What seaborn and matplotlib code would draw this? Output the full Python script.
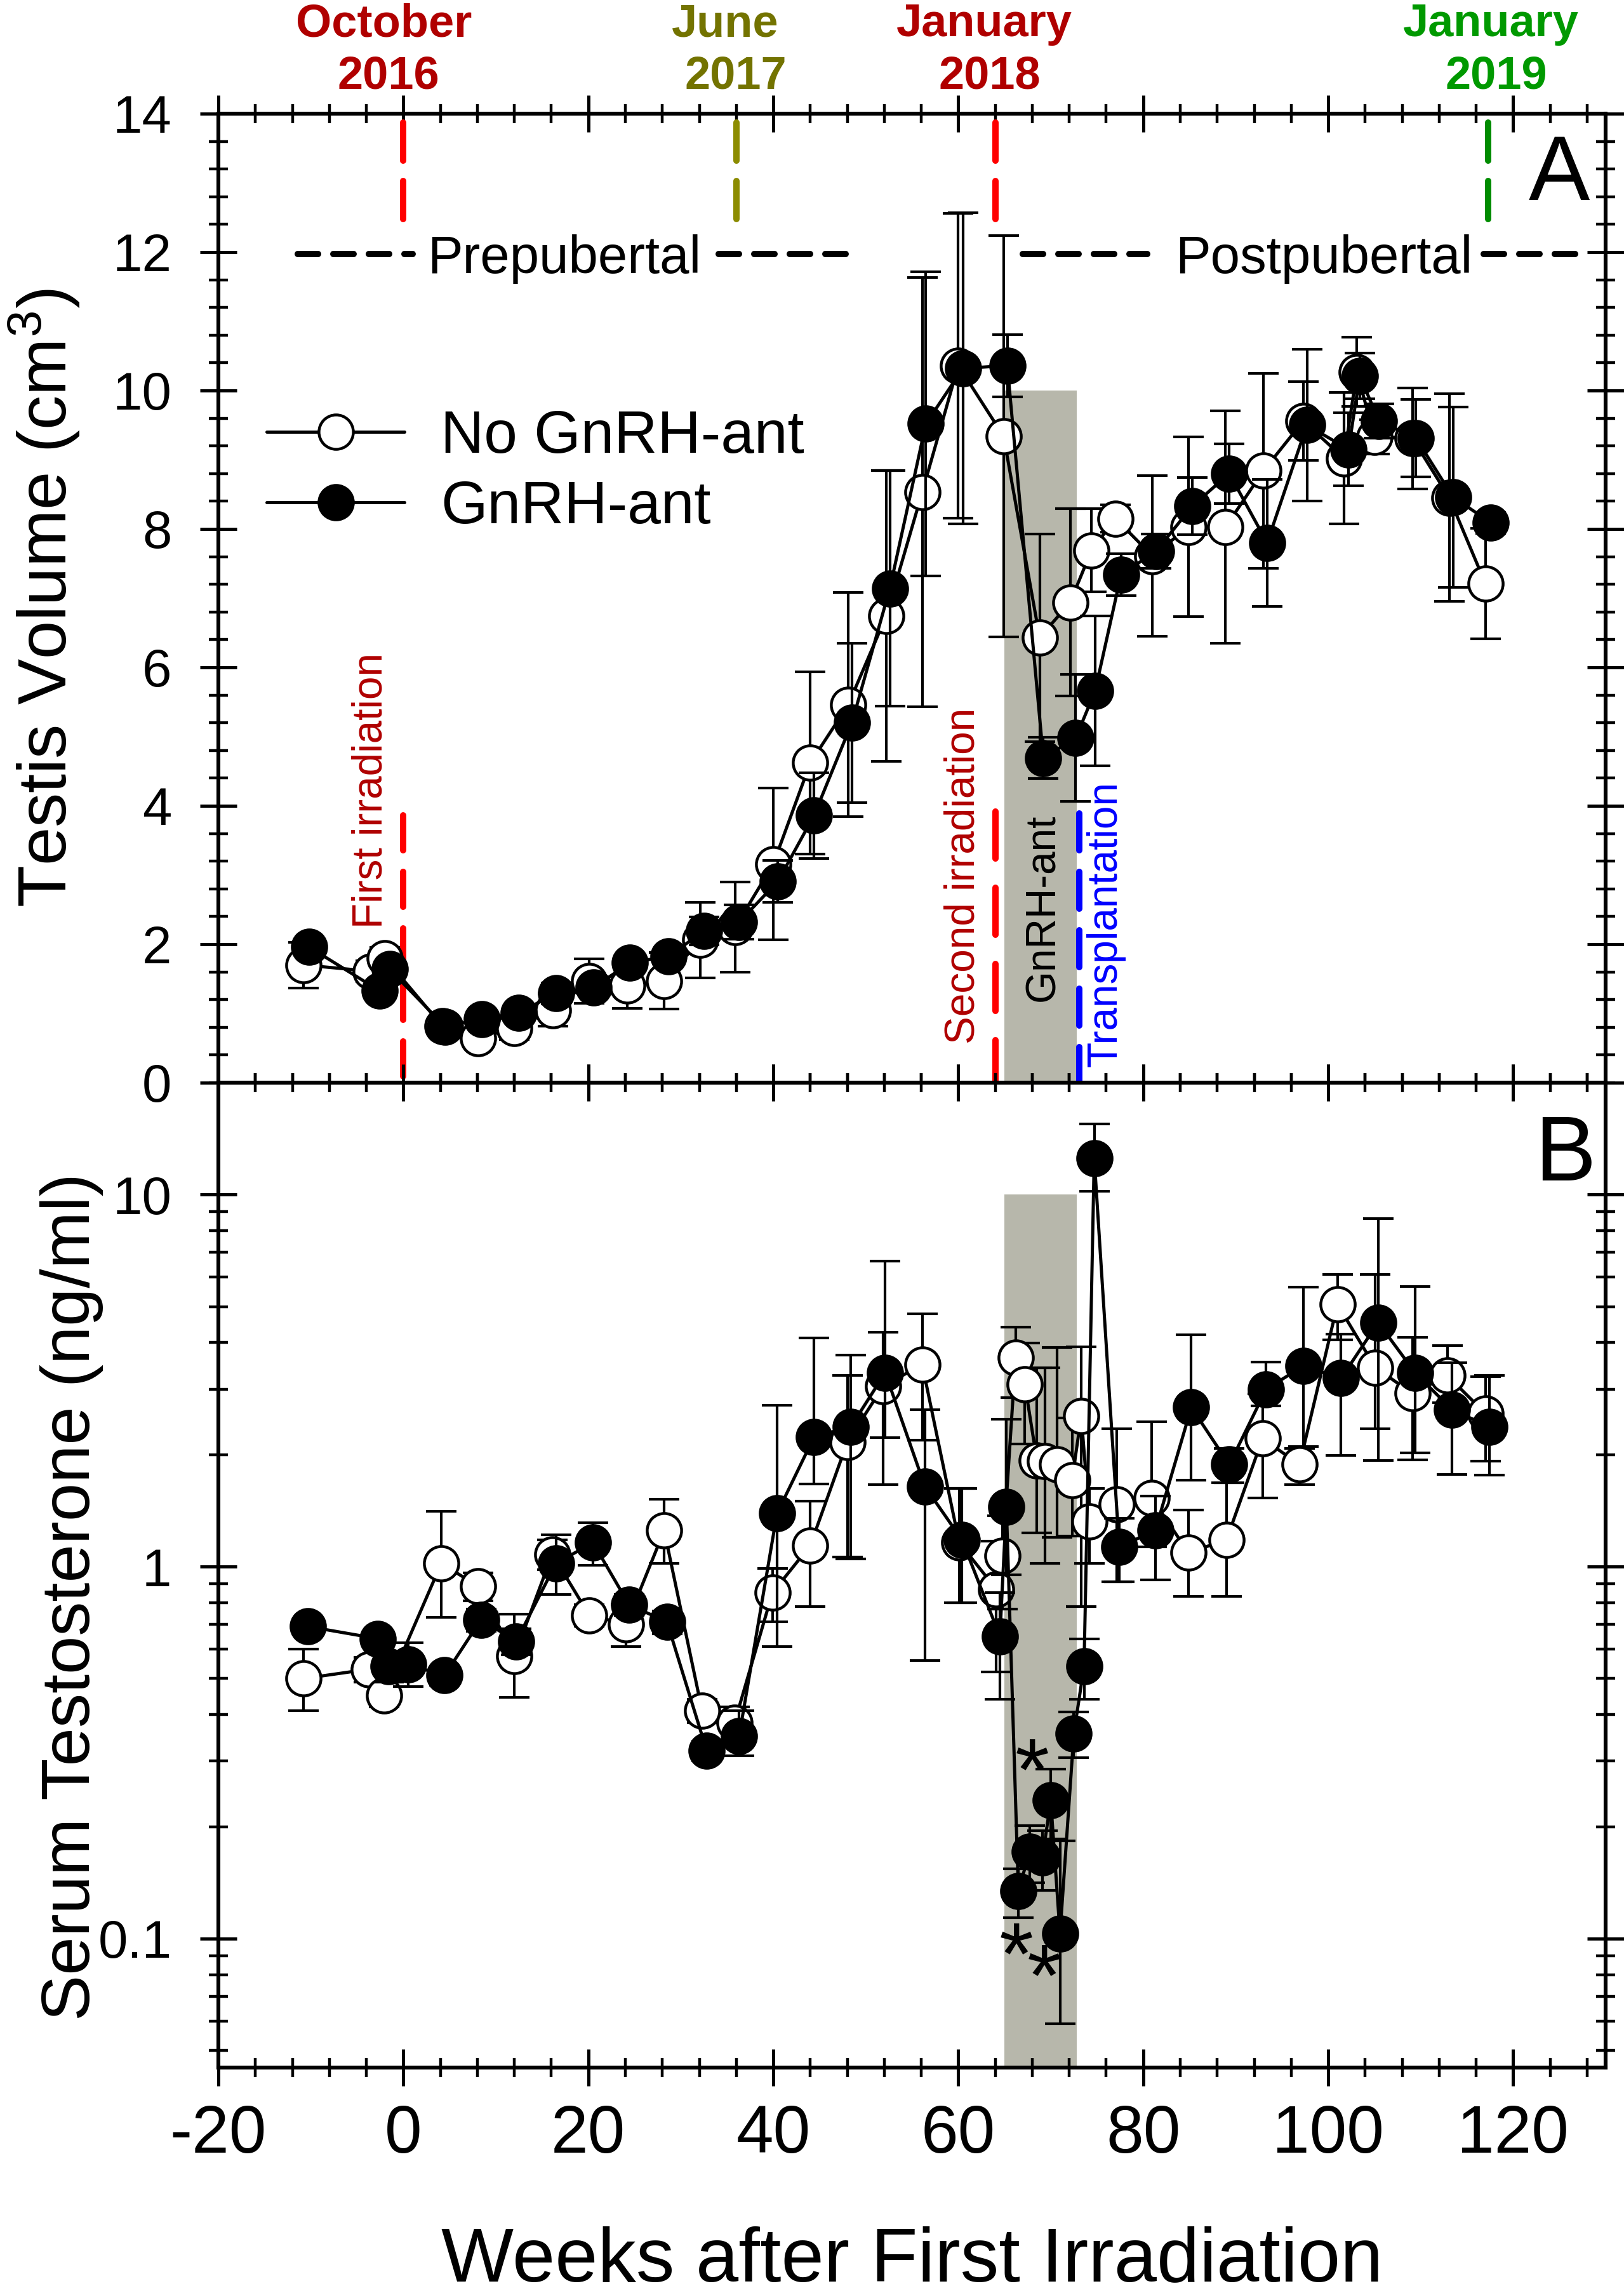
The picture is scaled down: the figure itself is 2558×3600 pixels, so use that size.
import matplotlib
matplotlib.use("Agg")
from matplotlib import pyplot as plt
from matplotlib import ticker
import seaborn as sns
import numpy as np

# ---- Panel A: testis volume (cm3), mean and SEM ----
weeks_vol_no = [-10.8, -3.5, -2.0, 4.2, 8.1, 12.0, 16.2, 20.1, 24.2, 28.2, 32.1, 35.9,
                40.0, 44.0, 48.1, 52.2, 56.1, 60.0, 64.9, 68.8, 72.1, 74.4, 77.0, 81.0,
                84.9, 88.9, 93.0, 97.3, 101.7, 103.1, 105.0, 109.1, 113.1, 117.0]
vol_no = [1.70, 1.61, 1.80, 0.82, 0.64, 0.79, 1.05, 1.47, 1.40, 1.47, 2.06, 2.25,
          3.16, 4.62, 5.46, 6.74, 8.53, 10.36, 9.34, 6.43, 6.94, 7.69, 8.15, 7.61,
          8.03, 8.03, 8.84, 9.56, 9.02, 10.27, 9.33, 9.31, 8.45, 7.21]
vol_no_sem = [0.33, 0.15, 0.15, 0.08, 0.10, 0.17, 0.23, 0.32, 0.33, 0.41, 0.55, 0.65,
              1.10, 1.32, 1.62, 2.10, 3.10, 2.20, 2.90, 1.50, 1.35, 0.60, 0.20, 1.16,
              1.30, 1.68, 1.41, 0.57, 0.95, 0.50, 0.25, 0.73, 1.50, 0.80]

weeks_vol_ant = [-10.2, -2.6, -1.5, 4.5, 8.5, 12.5, 16.5, 20.6, 24.5, 28.7, 32.5, 36.3,
                 40.5, 44.4, 48.5, 52.6, 56.5, 60.5, 65.3, 69.2, 72.7, 74.8, 77.6, 81.4,
                 85.3, 89.3, 93.4, 97.7, 102.2, 103.4, 105.5, 109.5, 113.5, 117.6]
vol_ant = [1.96, 1.33, 1.64, 0.81, 0.92, 1.01, 1.29, 1.38, 1.73, 1.83, 2.19, 2.32,
           2.91, 3.86, 5.20, 7.14, 9.52, 10.32, 10.36, 4.69, 4.98, 5.66, 7.34, 7.68,
           8.33, 8.80, 7.80, 9.50, 9.15, 10.21, 9.56, 9.31, 8.46, 8.09]
vol_ant_sem = [0.10, 0.12, 0.12, 0.08, 0.10, 0.10, 0.15, 0.10, 0.12, 0.12, 0.20, 0.25,
               0.30, 0.62, 1.15, 1.70, 2.20, 2.25, 0.45, 0.30, 0.92, 1.08, 0.30, 0.25,
               0.41, 0.43, 0.92, 1.10, 0.53, 0.33, 0.25, 0.56, 1.30, 0.15]

# ---- Panel B: serum testosterone (ng/ml), mean with lower / upper SEM ----
weeks_t_no = [-10.8, -3.7, -2.1, 4.1, 8.1, 12.0, 16.1, 20.1, 24.1, 28.2, 32.3, 35.8,
              39.9, 44.0, 48.0, 51.9, 56.1, 60.1, 64.1, 64.8, 66.2, 67.2, 68.5, 69.4,
              70.7, 72.3, 73.3, 74.2, 77.1, 80.9, 84.9, 89.0, 92.9, 96.9, 101.0, 105.1,
              109.1, 112.9, 117.0]
t_no = [0.50, 0.53, 0.45, 1.02, 0.885, 0.575, 1.08, 0.74, 0.70, 1.25, 0.41, 0.38,
        0.85, 1.14, 2.16, 3.06, 3.49, 1.16, 0.87, 1.07, 3.65, 3.09, 1.93, 1.92,
        1.88, 1.71, 2.54, 1.32, 1.47, 1.53, 1.09, 1.18, 2.21, 1.88, 5.07, 3.43,
        2.92, 3.26, 2.58]
t_no_lo = [0.09, 0.04, 0.03, 0.29, 0.075, 0.13, 0.10, 0.05, 0.09, 0.23, 0.03, 0.04,
           0.14, 0.36, 1.10, 1.40, 1.30, 0.36, 0.35, 0.30, 0.80, 0.95, 0.70, 0.90,
           0.68, 0.50, 1.76, 0.30, 0.56, 0.40, 0.26, 0.35, 0.68, 0.22, 1.00, 1.08,
           0.98, 0.50, 0.66]
t_no_hi = [0.10, 0.04, 0.03, 0.39, 0.075, 0.17, 0.10, 0.05, 0.09, 0.27, 0.03, 0.04,
           0.14, 0.36, 1.10, 1.20, 1.30, 0.46, 0.30, 0.30, 0.76, 0.90, 1.50, 1.50,
           2.00, 0.80, 1.36, 0.30, 0.88, 0.92, 0.33, 0.50, 0.70, 0.20, 1.04, 2.67,
           1.22, 0.67, 0.66]

weeks_t_ant = [-10.3, -2.75, -1.6, 0.5, 4.45, 8.4, 12.2, 16.5, 20.5, 24.4, 28.5, 32.8,
               36.3, 40.4, 44.4, 48.4, 52.1, 56.4, 60.4, 64.5, 65.2, 66.5, 67.7, 69.1,
               70.0, 71.0, 72.5, 73.6, 74.7, 77.4, 81.3, 85.2, 89.3, 93.3, 97.3, 101.4,
               105.4, 109.4, 113.4, 117.4]
t_ant = [0.69, 0.64, 0.54, 0.545, 0.51, 0.72, 0.63, 1.02, 1.16, 0.79, 0.71, 0.32,
         0.35, 1.39, 2.23, 2.38, 3.32, 1.64, 1.18, 0.65, 1.45, 0.134, 0.171, 0.165,
         0.235, 0.103, 0.356, 0.54, 12.55, 1.13, 1.25, 2.68, 1.88, 3.00, 3.46, 3.21,
         4.53, 3.32, 2.64, 2.38]
t_ant_lo = [0.03, 0.03, 0.05, 0.07, 0.03, 0.05, 0.05, 0.18, 0.15, 0.05, 0.05, 0.02,
            0.04, 0.78, 0.56, 1.33, 1.10, 1.08, 0.38, 0.21, 0.50, 0.02, 0.03, 0.03,
            0.05, 0.044, 0.05, 0.10, 2.35, 0.22, 0.33, 0.97, 0.20, 0.30, 1.36, 1.22,
            2.60, 1.30, 0.87, 0.62]
t_ant_hi = [0.03, 0.03, 0.05, 0.08, 0.03, 0.05, 0.05, 0.20, 0.15, 0.05, 0.05, 0.02,
            0.06, 1.32, 1.89, 1.33, 3.30, 1.00, 0.44, 0.20, 1.04, 0.02, 0.03, 0.03,
            0.05, 0.08, 0.05, 0.10, 2.95, 0.22, 0.30, 1.52, 0.20, 0.55, 2.17, 1.00,
            4.10, 2.35, 0.90, 0.88]

# significance marks (week, ng/ml)
star_weeks = [68.0, 66.3, 69.3]
star_vals = [0.30, 0.096, 0.084]

# calendar labels above panel A
month_names = ["October", "June", "January", "January"]
year_names = ["2016", "2017", "2018", "2019"]
month_line_weeks = [0, 36, 64, 117.3]
month_text_weeks = [-2.1, 34.8, 62.8, 117.6]
year_text_weeks = [-1.6, 35.9, 63.4, 118.2]
month_text_colors = ["#B00000", "#737300", "#B00000", "#009900"]
month_line_colors = ["#FF0000", "#8C8C00", "#FF0000", "#008C00"]

# treatment window (GnRH-ant) and events
band_weeks = [65, 72.8]
first_irr_week = 0
second_irr_week = 64
transplant_week = 73.1

NO_LABEL = "No GnRH-ant"
ANT_LABEL = "GnRH-ant"
BAND_COLOR = "#B7B7AB"
DARK_RED = "#B00000"

sns.set_style("ticks")
plt.rcParams["font.family"] = ["Liberation Sans", "DejaVu Sans"]
plt.rcParams["mathtext.fontset"] = "custom"
plt.rcParams["mathtext.rm"] = "Liberation Sans"
plt.rcParams["mathtext.it"] = "Liberation Sans:italic"
plt.rcParams["axes.unicode_minus"] = False
for key in ["text.color", "axes.labelcolor", "xtick.color", "ytick.color", "axes.edgecolor"]:
    plt.rcParams[key] = "black"

fig = plt.figure(figsize=(12.79, 18), dpi=200)
ax_a = fig.add_axes([0.1345, 0.52639, 0.8542, 0.42389])
ax_b = fig.add_axes([0.1345, 0.09556, 0.8542, 0.43083])

mk = dict(marker="o", markersize=19.5, markeredgewidth=1.6, markeredgecolor="black",
          linewidth=1.8, color="black", sort=False)
eb = dict(fmt="none", ecolor="black", elinewidth=1.5, capsize=8.6, capthick=1.5)


def draw_series(ax, x_no, y_no, err_no, x_ant, y_ant, err_ant):
    ax.errorbar(x_no, y_no, yerr=err_no, zorder=2, **eb)
    sns.lineplot(x=x_no, y=y_no, ax=ax, markerfacecolor="white", label=NO_LABEL,
                 zorder=3, **mk)
    ax.errorbar(x_ant, y_ant, yerr=err_ant, zorder=4, **eb)
    sns.lineplot(x=x_ant, y=y_ant, ax=ax, markerfacecolor="black", label=ANT_LABEL,
                 zorder=5, **mk)


def style_axes(ax):
    for s in ax.spines.values():
        s.set_linewidth(2.2)
        s.set_color("black")
        s.set_visible(True)
    ax.tick_params(which="major", direction="inout", length=21, width=1.8,
                   top=True, right=True, color="black")
    ax.tick_params(which="minor", direction="inout", length=11, width=1.6,
                   top=True, right=True, color="black")
    ax.tick_params(axis="y", which="major", labelsize=30, pad=16)
    ax.tick_params(axis="x", which="major", labelsize=38, pad=10)
    ax.set_xlim(-20, 130)
    ax.xaxis.set_major_locator(ticker.MultipleLocator(20))
    ax.xaxis.set_minor_locator(ticker.MultipleLocator(4))


# ---------------- Panel A ----------------
ax_a.fill_between(band_weeks, 0, 10, color=BAND_COLOR, linewidth=0, zorder=0.5)
draw_series(ax_a, weeks_vol_no, vol_no, vol_no_sem, weeks_vol_ant, vol_ant, vol_ant_sem)

dash_kw = dict(linewidth=3.6, dash_capstyle="round", zorder=1)
for w, c in zip(month_line_weeks, month_line_colors):
    ax_a.plot([w, w], [12.48, 13.87], color=c, linestyle=(0, (6, 3.2)), **dash_kw)
ax_a.plot([first_irr_week] * 2, [3.86, 0], color="#FF0000", linestyle=(0, (5.5, 3.4)), **dash_kw)
ax_a.plot([second_irr_week] * 2, [3.92, 0], color="#FF0000", linestyle=(0, (7.4, 4.6)), **dash_kw)
ax_a.plot([transplant_week] * 2, [3.89, 0], color="#0000FF", linestyle=(0, (5.8, 3.4)), **dash_kw)

# prepubertal / postpubertal period lines
for seg in ([-11.4, 1.0], [34.1, 49.1], [67.0, 80.4], [116.8, 127.6]):
    ax_a.plot(seg, [11.97, 11.97], color="black", linestyle=(0, (3.2, 2.4)), **dash_kw)
ax_a.text(17.4, 11.70, "Prepubertal", fontsize=30, ha="center", va="baseline")
ax_a.text(99.5, 11.70, "Postpubertal", fontsize=30, ha="center", va="baseline")

rot = dict(rotation=90, rotation_mode="anchor", ha="left", va="baseline", fontsize=23.7)
ax_a.text(-2.35, 2.23, "First irradiation", color=DARK_RED, **rot)
ax_a.text(61.7, 0.56, "Second irradiation", color=DARK_RED, **rot)
ax_a.text(70.35, 1.17, "GnRH-ant", color="black", **rot)
ax_a.text(77.1, 0.23, "Transplantation", color="#0000FF", **rot)

top = ax_a.get_xaxis_transform()
for mx, yx, m, y, c in zip(month_text_weeks, year_text_weeks, month_names, year_names,
                           month_text_colors):
    ax_a.text(mx, 1.0799, m, transform=top, color=c, fontsize=26, fontweight="bold",
              ha="center", va="baseline", clip_on=False)
    ax_a.text(yx, 1.0256, y, transform=top, color=c, fontsize=26, fontweight="bold",
              ha="center", va="baseline", clip_on=False)

ax_a.set_ylim(0, 14)
ax_a.yaxis.set_major_locator(ticker.MultipleLocator(2))
ax_a.yaxis.set_minor_locator(ticker.MultipleLocator(0.4))
style_axes(ax_a)
ax_a.tick_params(labelbottom=False)
ax_a.set_xlabel("")
ax_a.set_ylabel(r"Testis Volume (cm$^{3}$)", fontsize=39)
ax_a.yaxis.set_label_coords(-0.098, 0.5)
ax_a.text(0.9886, 0.911, "A", transform=ax_a.transAxes, fontsize=52, ha="right",
          va="baseline")

h, l = ax_a.get_legend_handles_labels()
ax_a.legend(h, l, loc="upper left", bbox_to_anchor=(0.0348, 0.695), frameon=False,
            fontsize=34, handlelength=2.3, handletextpad=0.6, labelspacing=0.23,
            borderpad=0, borderaxespad=0)

# ---------------- Panel B ----------------
ax_b.set_yscale("log")
ax_b.set_ylim(0.045, 20)
ax_b.fill_between(band_weeks, 0.045, 10, color=BAND_COLOR, linewidth=0, zorder=0.5)
draw_series(ax_b, weeks_t_no, t_no, [t_no_lo, t_no_hi],
            weeks_t_ant, t_ant, [t_ant_lo, t_ant_hi])
if ax_b.get_legend() is not None:
    ax_b.get_legend().remove()

for sx, sv in zip(star_weeks, star_vals):
    ax_b.annotate("*", (sx, sv), xytext=(0, -9), textcoords="offset points",
                  fontsize=50, ha="center", va="center", zorder=6)

ax_b.yaxis.set_major_locator(ticker.LogLocator(base=10, subs=(1.0,)))
ax_b.yaxis.set_minor_locator(ticker.LogLocator(base=10, subs=np.arange(2, 10)))
ax_b.yaxis.set_major_formatter(ticker.FuncFormatter(lambda v, _: f"{v:g}"))
ax_b.yaxis.set_minor_formatter(ticker.NullFormatter())
style_axes(ax_b)
ax_b.set_ylabel("Serum Testosterone (ng/ml)", fontsize=39)
ax_b.yaxis.set_label_coords(-0.0828, 0.478)
ax_b.set_xlabel("Weeks after First Irradiation", fontsize=43.5)
ax_b.xaxis.set_label_coords(0.5, -0.1605)
ax_b.text(0.993, 0.901, "B", transform=ax_b.transAxes, fontsize=52, ha="right",
          va="baseline")

fig.savefig("out.png", dpi=200)
